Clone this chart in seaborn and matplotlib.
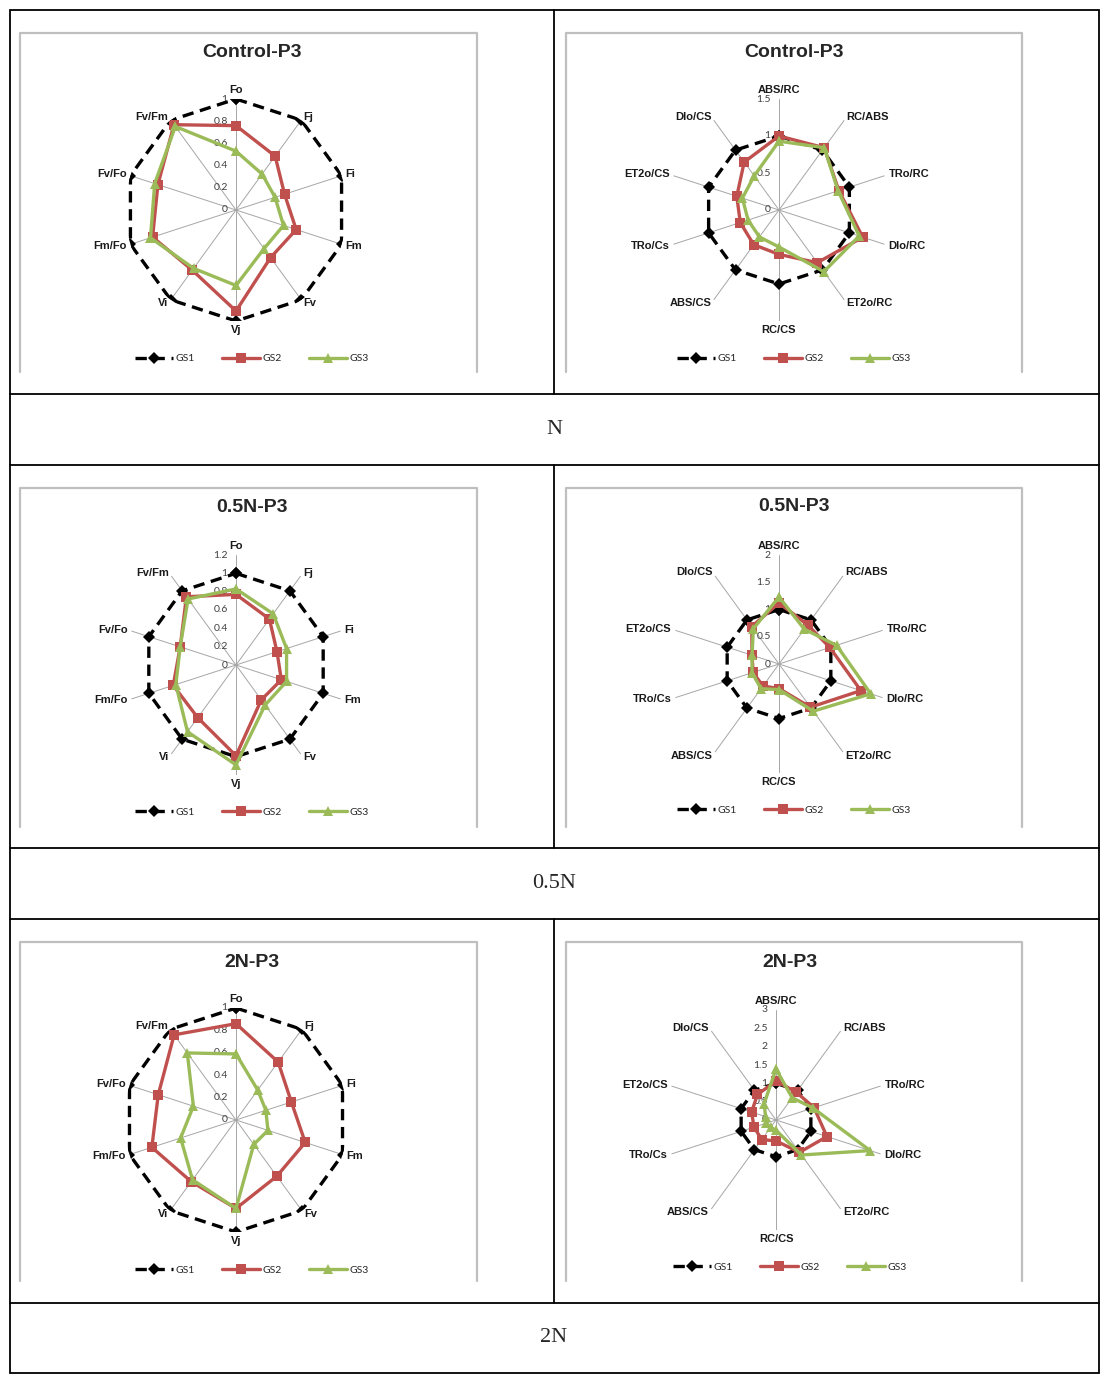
import numpy as np
import pandas as pd
import matplotlib
matplotlib.use("Agg")
import matplotlib.pyplot as plt
from matplotlib.patches import Rectangle
from matplotlib.transforms import offset_copy
import seaborn as sns

### Data (values relative to GS1 = 1)
fluo_labels = ['Fo', 'Fj', 'Fi', 'Fm', 'Fv', 'Vj', 'Vi', 'Fm/Fo', 'Fv/Fo', 'Fv/Fm']
flux_labels = ['ABS/RC', 'RC/ABS', 'TRo/RC', 'DIo/RC', 'ET2o/RC', 'RC/CS', 'ABS/CS', 'TRo/Cs', 'ET2o/CS', 'DIo/CS']
series_names = ['GS1', 'GS2', 'GS3']
row_labels = ['N', '0.5N', '2N']
chart_titles = ['Control-P3', '0.5N-P3', '2N-P3']

gs1_ref = [1, 1, 1, 1, 1, 1, 1, 1, 1, 1]

control_fluo_gs2 = [0.76, 0.60, 0.46, 0.57, 0.53, 0.91, 0.67, 0.79, 0.74, 0.95]
control_fluo_gs3 = [0.53, 0.40, 0.37, 0.45, 0.43, 0.68, 0.65, 0.81, 0.77, 0.93]
control_flux_gs2 = [1.00, 1.04, 0.85, 1.19, 0.88, 0.60, 0.58, 0.55, 0.60, 0.80]
control_flux_gs3 = [0.93, 1.04, 0.84, 1.14, 1.03, 0.50, 0.45, 0.44, 0.52, 0.57]

half_fluo_gs2 = [0.77, 0.62, 0.47, 0.52, 0.47, 0.99, 0.71, 0.72, 0.64, 0.92]
half_fluo_gs3 = [0.83, 0.69, 0.58, 0.58, 0.54, 1.09, 0.90, 0.69, 0.64, 0.89]
half_flux_gs2 = [1.12, 0.89, 0.98, 1.58, 0.98, 0.45, 0.50, 0.50, 0.52, 0.85]
half_flux_gs3 = [1.23, 0.79, 1.11, 1.77, 1.07, 0.47, 0.56, 0.52, 0.52, 0.80]

double_fluo_gs2 = [0.86, 0.64, 0.52, 0.65, 0.62, 0.79, 0.68, 0.79, 0.73, 0.94]
double_fluo_gs3 = [0.59, 0.33, 0.28, 0.30, 0.27, 0.79, 0.66, 0.52, 0.40, 0.74]
double_flux_gs2 = [1.06, 0.94, 1.09, 1.46, 1.09, 0.57, 0.66, 0.63, 0.70, 0.86]
double_flux_gs3 = [1.39, 0.75, 1.06, 2.70, 1.18, 0.28, 0.25, 0.28, 0.30, 0.55]

fluo_ticks_1 = [0, 0.2, 0.4, 0.6, 0.8, 1]
fluo_ticks_12 = [0, 0.2, 0.4, 0.6, 0.8, 1, 1.2]
flux_ticks_15 = [0, 0.5, 1, 1.5]
flux_ticks_2 = [0, 0.5, 1, 1.5, 2]
flux_ticks_3 = [0, 0.5, 1, 1.5, 2, 2.5, 3]

### Style
sns.set_style("white")
plt.rcParams['font.family'] = ['Lato', 'DejaVu Sans']
BOLD_FONT = ['Liberation Sans', 'DejaVu Sans']

palette = {'GS1': 'black', 'GS2': '#C0504D', 'GS3': '#9BBB59'}
markers = {'GS1': 'D', 'GS2': 's', 'GS3': '^'}
dashes = {'GS1': (3.4, 2.0), 'GS2': '', 'GS3': ''}

W, H = 1114, 1388
fig = plt.figure(figsize=(W / 100, H / 100), dpi=100)

bg = fig.add_axes([0, 0, 1, 1])
bg.set_xlim(0, W)
bg.set_ylim(H, 0)
bg.axis('off')

### Table frame
bg.add_patch(Rectangle((10, 10), 1089, 1363, fill=False, ec='black', lw=1.3))
for y in [394, 465, 848, 919, 1303]:
    bg.plot([10, 1099], [y, y], color='black', lw=1.3)
row_tops = [10, 465, 919]
row_bottoms = [394, 848, 1303]
for t, b in zip(row_tops, row_bottoms):
    bg.plot([554, 554], [t, b], color='black', lw=1.3)
    # excel chart boxes (cut off at the bottom)
    for x0, x1 in [(20, 477), (566, 1022)]:
        bg.plot([x0, x0, x1, x1], [t + 362, t + 23, t + 23, t + 362], color='#BFBFBF', lw=1.6)
for lab, b, t in zip(row_labels, row_bottoms, [465, 919, 1373]):
    bg.text(554, (b + t) / 2, lab, ha='center', va='center', fontsize=16, family='Liberation Serif')

theta = np.linspace(0, 2 * np.pi, 11)


def panel_frame(gs2, gs3):
    rows = []
    for name, vals in zip(series_names, [gs1_ref, gs2, gs3]):
        closed = list(vals) + [vals[0]]
        for th, v in zip(theta, closed):
            rows.append({'theta': th, 'value': v, 'series': name})
    return pd.DataFrame(rows)


def radar(cx, cy, R, labels, gs2, gs3, ticks, title, box_x):
    ax = fig.add_axes([(cx - R) / W, 1 - (cy + R) / H, 2 * R / W, 2 * R / H], projection='polar')
    ax.set_theta_zero_location('N')
    ax.set_theta_direction(-1)
    ax.set_facecolor('none')

    df = panel_frame(gs2, gs3)
    sns.lineplot(data=df, x='theta', y='value', hue='series', style='series',
                 hue_order=series_names, style_order=series_names,
                 palette=palette, markers=markers, dashes=dashes,
                 sort=False, estimator=None, lw=2.4, markersize=6.5,
                 markeredgewidth=0, ax=ax, zorder=3)

    rmax = ticks[-1]
    ax.set_ylim(0, rmax)
    ax.set_xticks(theta[:-1])
    ax.set_xticklabels([])
    ax.set_yticks(ticks)
    ax.set_yticklabels([])
    ax.yaxis.grid(False)
    ax.xaxis.grid(True, color='#A6A6A6', lw=0.7)
    ax.spines['polar'].set_visible(False)
    ax.set_xlabel('')
    ax.set_ylabel('')

    # value axis labels, just left of the top spoke
    tick_tr = offset_copy(ax.transData, fig=fig, x=-6, y=0, units='points')
    for t in ticks:
        ax.text(0, t, f'{t:g}', transform=tick_tr, ha='right', va='center',
                fontsize=7.5, color='#404040', zorder=1)

    # category labels at the end of each spoke
    for th, lab in zip(theta[:-1], labels):
        s, c = np.sin(th), np.cos(th)
        if abs(s) < 0.1:
            ha, va = 'center', ('bottom' if c > 0 else 'top')
        else:
            ha, va = ('left' if s > 0 else 'right'), 'center'
        tr = offset_copy(ax.transData, fig=fig, x=3 * s, y=3 * c, units='points')
        ax.text(th, rmax, lab, transform=tr, ha=ha, va=va, fontsize=8,
                fontweight='bold', family=BOLD_FONT, color='#1a1a1a')

    sns.move_legend(ax, 'center', bbox_to_anchor=((box_x - cx) / (2 * R) + 0.5, -0.17),
                    ncol=3, frameon=False, title=None, fontsize=7.5,
                    handlelength=3.6, columnspacing=2.6, handletextpad=0.3)

    bg.text(box_x, cy - 158, title, ha='center', va='center', fontsize=14,
            fontweight='bold', family=BOLD_FONT)
    return ax


radar(236, 210, 111, fluo_labels, control_fluo_gs2, control_fluo_gs3, fluo_ticks_1, chart_titles[0], 252)
radar(779, 210, 111, flux_labels, control_flux_gs2, control_flux_gs3, flux_ticks_15, chart_titles[0], 794)
radar(236, 665, 110, fluo_labels, half_fluo_gs2, half_fluo_gs3, fluo_ticks_12, chart_titles[1], 252)
radar(779, 664, 109, flux_labels, half_flux_gs2, half_flux_gs3, flux_ticks_2, chart_titles[1], 794)
radar(236, 1120, 112, fluo_labels, double_fluo_gs2, double_fluo_gs3, fluo_ticks_1, chart_titles[2], 252)
radar(776, 1120, 110, flux_labels, double_flux_gs2, double_flux_gs3, flux_ticks_3, chart_titles[2], 790)

plt.savefig("out.png", dpi=100)
